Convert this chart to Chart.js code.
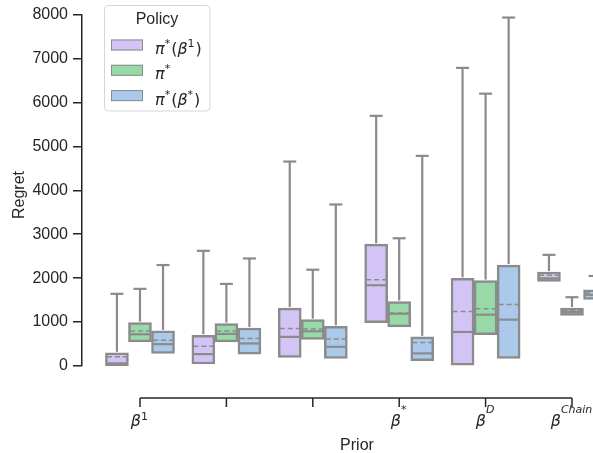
<!DOCTYPE html>
<html>
<head>
<meta charset="utf-8">
<script src="https://cdn.jsdelivr.net/npm/chart.js@4.4.0/dist/chart.umd.min.js"></script>
<style>
  html, body { margin: 0; padding: 0; background: #fff; overflow: hidden; }
  #wrap { width: 593px; height: 453px; }
</style>
</head>
<body>
<div id="wrap"><canvas id="regretChart"></canvas></div>
<script>
// Prior tick labels, as [text, kind] pieces: i = italic, n = upright, s = superscript, si = italic superscript
var priorLabels = [
  [['β', 'i'], ['1', 's']],
  [],
  [],
  [['β', 'i'], ['*', 's']],
  [['β', 'i'], ['D', 'si']],
  [['β', 'i'], ['Chain', 'si']]
];

// Policy names for the legend
var policyLabels = [
  [['π', 'i'], ['*', 's'], ['(', 'n'], ['β', 'i'], ['1', 's'], [')', 'n']],
  [['π', 'i'], ['*', 's']],
  [['π', 'i'], ['*', 's'], ['(', 'n'], ['β', 'i'], ['*', 's'], [')', 'n']]
];

// π*(β¹)
var beta1Q1 = [7, 45, 196, 988, 0, 1928];
var beta1Q3 = [300, 700, 1318, 2773, 1996, 2140];
var beta1Median = [60, 271, 663, 1838, 775, 1996];
var beta1Mean = [210, 452, 851, 1966, 1243, 2065];
var beta1Top = [1643, 2622, 4655, 5695, 6787, 2531];

// π*
var optQ1 = [550, 550, 603, 889, 716, 1153];
var optQ3 = [988, 965, 1055, 1469, 1944, 1318];
var optMedian = [723, 730, 790, 1190, 1168, 1227];
var optMean = [798, 798, 845, 1205, 1304, 1266];
var optTop = [1756, 1869, 2192, 2908, 6200, 1566];

// π*(β*)
var betaStarQ1 = [287, 271, 173, 120, 173, 1515];
var betaStarQ3 = [798, 866, 904, 663, 2298, 1733];
var betaStarMedian = [497, 513, 437, 287, 1055, 1620];
var betaStarMean = [588, 626, 617, 535, 1401, 1660];
var betaStarTop = [2298, 2448, 3677, 4784, 7933, 2050];

var yTicks = [0, 1000, 2000, 3000, 4000, 5000, 6000, 7000, 8000];

var series = [
  { q1: beta1Q1, q3: beta1Q3, med: beta1Median, mean: beta1Mean, top: beta1Top },
  { q1: optQ1, q3: optQ3, med: optMedian, mean: optMean, top: optTop },
  { q1: betaStarQ1, q3: betaStarQ3, med: betaStarMedian, mean: betaStarMean, top: betaStarTop }
];

var fillColors = ['#d3c4f6', '#98daa7', '#abc9ea'];
var lineGray = '#8b8b8b';
var ink = '#262626';
var dodge = 0.8 / 3;
var offsets = [-dodge, 0, dodge];
var boxWidth = 23;
var tickSupRaise = [6, 0, 0, 13, 13, 13];

function fontFor(kind, size) {
  if (kind === 'i') return 'italic ' + size + 'px "DejaVu Sans"';
  if (kind === 'si') return 'italic ' + Math.round(size * 0.7) + 'px "DejaVu Sans"';
  if (kind === 's') return Math.round(size * 0.7) + 'px "DejaVu Sans"';
  return size + 'px "DejaVu Sans"';
}

function richWidth(ctx, pieces, size) {
  var w = 0;
  pieces.forEach(function (p) {
    ctx.font = fontFor(p[1], size);
    w += ctx.measureText(p[0]).width;
  });
  return w;
}

function drawRich(ctx, pieces, x, y, size, raise) {
  pieces.forEach(function (p) {
    ctx.font = fontFor(p[1], size);
    var sup = p[1] === 's' || p[1] === 'si';
    ctx.fillText(p[0], x, sup ? y - raise : y);
    x += ctx.measureText(p[0]).width + (sup ? 1 : 0);
  });
}

function seg(ctx, x1, y1, x2, y2) {
  ctx.beginPath();
  ctx.moveTo(x1, y1);
  ctx.lineTo(x2, y2);
  ctx.stroke();
}

// whiskers, caps, medians and means on top of the boxes
var boxParts = {
  id: 'boxParts',
  afterDatasetsDraw: function (chart) {
    var ctx = chart.ctx, x = chart.scales.x, y = chart.scales.y;
    var half = boxWidth / 2 - 1.5;
    ctx.save();
    ctx.strokeStyle = lineGray;
    series.forEach(function (s, d) {
      s.q1.forEach(function (_, i) {
        var cx = x.getPixelForValue(i + offsets[d]);
        var yq3 = y.getPixelForValue(s.q3[i]);
        var yTop = y.getPixelForValue(s.top[i]);
        ctx.setLineDash([]);
        ctx.lineWidth = 2.2;
        seg(ctx, cx, yq3 - 1, cx, yTop);
        seg(ctx, cx - 6.5, yTop, cx + 6.5, yTop);
        var ym = y.getPixelForValue(s.med[i]);
        seg(ctx, cx - half, ym, cx + half, ym);
        ctx.setLineDash([5, 3]);
        ctx.lineWidth = 1.5;
        var ya = y.getPixelForValue(s.mean[i]);
        seg(ctx, cx - half, ya, cx + half, ya);
      });
    });
    ctx.restore();
  },
  afterDraw: function (chart) {
    var ctx = chart.ctx, x = chart.scales.x, area = chart.chartArea;
    ctx.save();
    ctx.fillStyle = ink;
    ctx.strokeStyle = ink;
    ctx.setLineDash([]);

    // offset x axis
    var ay = area.bottom + 32;
    ctx.lineWidth = 1.5;
    seg(ctx, x.getPixelForValue(0), ay, x.getPixelForValue(priorLabels.length - 1), ay);
    ctx.textBaseline = 'alphabetic';
    ctx.textAlign = 'left';
    priorLabels.forEach(function (lab, i) {
      var px = x.getPixelForValue(i);
      seg(ctx, px, ay, px, ay + 9);
      if (lab.length) {
        var w = richWidth(ctx, lab, 16) + 1;
        drawRich(ctx, lab, px - w / 2, ay + 28, 16, tickSupRaise[i]);
      }
    });
    ctx.font = '16px "Liberation Sans"';
    ctx.textAlign = 'center';
    ctx.fillText('Prior', 357, 450);

    // y title
    ctx.save();
    ctx.translate(24, 195);
    ctx.rotate(-Math.PI / 2);
    ctx.fillText('Regret', 0, 0);
    ctx.restore();

    // legend
    ctx.beginPath();
    ctx.roundRect(104.5, 5.5, 105.5, 105.5, 4);
    ctx.fillStyle = 'rgba(255,255,255,0.8)';
    ctx.fill();
    ctx.lineWidth = 1;
    ctx.strokeStyle = '#d6d6d6';
    ctx.stroke();
    ctx.fillStyle = ink;
    ctx.font = '16px "Liberation Sans"';
    ctx.textAlign = 'center';
    ctx.fillText('Policy', 157, 24);
    ctx.textAlign = 'left';
    policyLabels.forEach(function (lab, i) {
      var cy = 45 + i * 25.3;
      ctx.fillStyle = fillColors[i];
      ctx.fillRect(111, cy - 5.5, 32, 11);
      ctx.strokeStyle = lineGray;
      ctx.lineWidth = 1;
      ctx.strokeRect(111.5, cy - 5, 31, 10);
      ctx.fillStyle = ink;
      drawRich(ctx, lab, 155, cy + 9, 16, 7);
    });
    ctx.restore();
  }
};

var datasets = series.map(function (s, d) {
  return {
    label: 'policy' + d,
    data: s.q1.map(function (v, i) { return { x: i + offsets[d], y: [v, s.q3[i]] }; }),
    backgroundColor: fillColors[d],
    borderColor: lineGray,
    borderWidth: 2.5,
    borderSkipped: false,
    barThickness: boxWidth,
    grouped: false
  };
});

var regretChart = new Chart(document.getElementById('regretChart'), {
  type: 'bar',
  data: { datasets: datasets },
  plugins: [boxParts],
  options: {
    responsive: true,
    maintainAspectRatio: false,
    animation: false,
    layout: { padding: { top: 12, bottom: 87, left: 0, right: 0 } },
    plugins: { legend: { display: false }, tooltip: { enabled: false } },
    scales: {
      x: {
        type: 'linear',
        min: -0.671,
        max: 5.243,
        offset: false,
        display: false
      },
      y: {
        min: 0,
        max: 8000,
        afterFit: function (scale) { scale.width = 82; },
        afterBuildTicks: function (scale) {
          scale.ticks = yTicks.map(function (v) { return { value: v }; });
        },
        ticks: {
          color: ink,
          padding: 5,
          font: { family: 'Liberation Sans', size: 16 },
          callback: function (v) { return String(v); }
        },
        grid: { drawOnChartArea: false, drawTicks: true, tickLength: 9, color: ink, lineWidth: 1.5 },
        border: { display: true, color: ink, width: 1.5 }
      }
    }
  }
});
</script>
</body>
</html>
